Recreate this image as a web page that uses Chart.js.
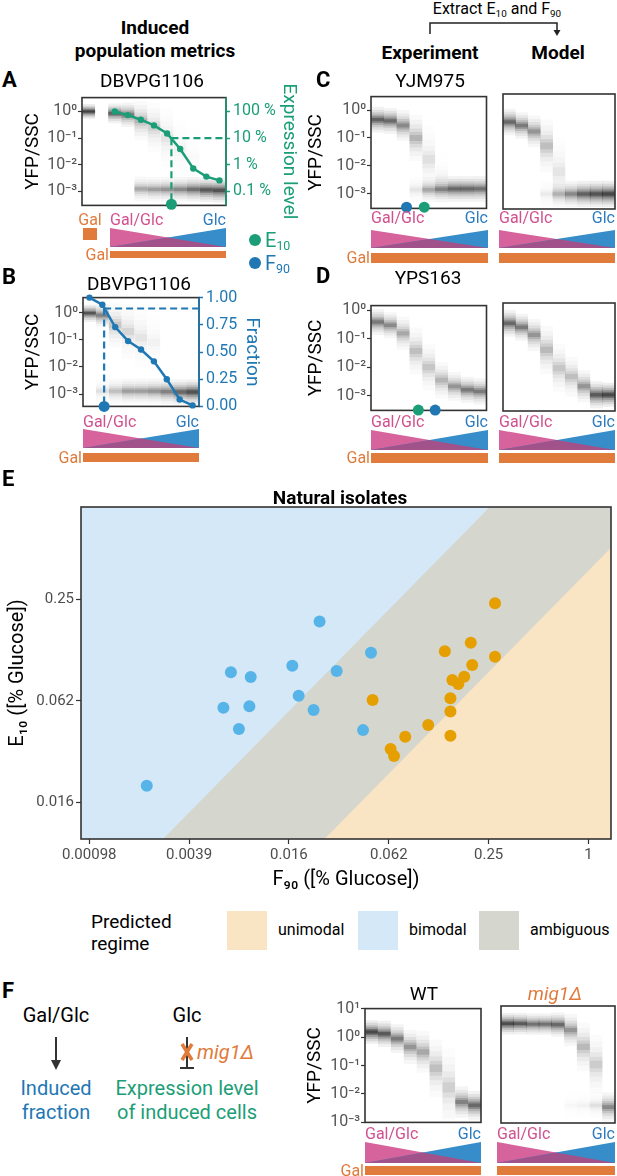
<!DOCTYPE html>
<html>
<head>
<meta charset="utf-8">
<title>Induced population metrics</title>
<script src="https://cdn.jsdelivr.net/npm/chart.js@4.4.1/dist/chart.umd.min.js"></script>
<style>
  body { margin: 0; width: 617px; height: 1176px; position: relative; overflow: hidden; background: #fff; font-family: Roboto, sans-serif; color: #000; }
  .t { position: absolute; white-space: nowrap; line-height: 1; }
  .cv { position: absolute; }
  sub { font-size: 0.62em; vertical-align: -0.28em; line-height: 0; }
  #deco { position: absolute; left: 0; top: 0; }
</style>
</head>
<body>
<svg id="deco" width="617" height="1176"></svg>
<script>
// ---------- panel E: natural isolates (% glucose) ----------
const blueF90 = [0.00217, 0.0239, 0.00698, 0.00919, 0.01637, 0.01788, 0.00629, 0.00902, 0.0078, 0.022, 0.0303, 0.0488, 0.0437];
const blueE10 = [0.0196, 0.185, 0.0923, 0.0865, 0.101, 0.067, 0.0569, 0.058, 0.0425, 0.0551, 0.0939, 0.1206, 0.0419];
const orangeF90 = [0.273, 0.195, 0.136, 0.199, 0.273, 0.151, 0.164, 0.178, 0.147, 0.147, 0.147, 0.108, 0.0785, 0.0641, 0.0672, 0.0499];
const orangeE10 = [0.237, 0.138, 0.123, 0.102, 0.114, 0.083, 0.0786, 0.0869, 0.0647, 0.0541, 0.0388, 0.0449, 0.0383, 0.0324, 0.0294, 0.0632];
// regime boundaries (two end points each, beyond the axis range)
const regionF90 = [0.0005, 2];
const bimodalTop = [5, 5];
const ambiguousTop = [0.00174, 6.96];
const unimodalTop = [0.000185, 0.74];
const eXTicks = [0.0009765625, 0.00390625, 0.015625, 0.0625, 0.25, 1];
const eXLabels = ['0.00098', '0.0039', '0.016', '0.062', '0.25', '1'];
const eYTicks = [0.015625, 0.0625, 0.25];
const eYLabels = ['0.016', '0.062', '0.25'];

// ---------- small density panels (YFP/SSC per condition) ----------
const decTicks = [0.001, 0.01, 0.1, 1];
const decLabels = ['10⁻³', '10⁻²', '10⁻¹', '10⁰'];
const fTicks = [0.001, 0.01, 0.1, 1, 10];
const fLabels = ['10⁻³', '10⁻²', '10⁻¹', '10⁰', '10¹'];
const exprTicks = [0.001, 0.01, 0.1, 1];
const exprLabels = ['0.1 %', '1 %', '10 %', '100 %'];
const fracTicks = [0, 0.25, 0.5, 0.75, 1];
const fracLabels = ['0.00', '0.25', '0.50', '0.75', '1.00'];

// A: DBVPG1106 (col 0 = Gal, col 1 empty)
const aInd  = [1.0, null, 0.85, 0.75, 0.45, 0.25, 0.1, 0.04, 0.02, null, null];
const aIndW = [1.0, 0, 0.75, 0.6, 0.3, 0.18, 0.1, 0.06, 0.03, 0, 0];
const aIndS = [0.6, 1, 0.8, 1.0, 1.6, 2.0, 2.4, 2.4, 2.4, 1, 1];
const aBas  = [null, null, null, null, 1.25e-3, 1.2e-3, 1.2e-3, 1.2e-3, 1.2e-3, 1.15e-3, 1.1e-3];
const aBasW = [0, 0, 0, 0, 0.35, 0.4, 0.45, 0.5, 0.65, 0.8, 0.85];
const aExprX = [2, 3, 4, 5, 6, 7, 8, 9, 10];
const aExpr = [1.0, 0.73, 0.49, 0.30, 0.15, 0.039, 0.0073, 0.0036, 0.0026];
const aE10 = 6.33, aE10Level = 0.1;

// B: DBVPG1106 fraction
const bInd  = [0.95, 0.8, 0.35, 0.2, 0.12, 0.08, null, null, null];
const bIndW = [0.85, 0.55, 0.22, 0.15, 0.1, 0.06, 0, 0, 0];
const bIndS = [0.7, 0.9, 1.8, 2.2, 2.4, 2.4, 1, 1, 1];
const bBas  = [null, 1.3e-3, 1.3e-3, 1.3e-3, 1.3e-3, 1.3e-3, 1.25e-3, 1.2e-3, 1.2e-3];
const bBasW = [0, 0.12, 0.25, 0.4, 0.4, 0.45, 0.55, 0.7, 0.85];
const bFrac = [1.0, 0.934, 0.729, 0.600, 0.523, 0.414, 0.249, 0.063, 0.009];
const bF90 = 1.14, bF90Level = 0.9;

// C: YJM975 experiment / model
const cInd  = [0.45, 0.41, 0.28, 0.1, 0.017, 0.004, null, null, null];
const cIndW = [0.75, 0.7, 0.5, 0.3, 0.12, 0.05, 0, 0, 0];
const cIndS = [1, 1, 1.2, 1.8, 2.6, 2, 1, 1, 1];
const cBas  = [null, null, null, 1.4e-3, 1.4e-3, 1.45e-3, 1.5e-3, 1.5e-3, 1.5e-3];
const cBasW = [0, 0, 0, 0.1, 0.35, 0.55, 0.7, 0.7, 0.65];
const cF90 = 2.27, cE10 = 3.65;
const cmInd  = [0.32, 0.24, 0.15, 0.047, 0.006, null, null, null, null];
const cmIndW = [0.7, 0.6, 0.45, 0.25, 0.1, 0, 0, 0, 0];
const cmIndS = [1, 1, 1.2, 2, 2.6, 1, 1, 1, 1];
const cmBas  = [null, null, null, 1e-3, 1e-3, 1e-3, 1e-3, 1e-3, 1e-3];
const cmBasW = [0, 0, 0, 0.08, 0.3, 0.5, 0.75, 0.85, 0.95];

// D: YPS163 experiment / model
const dInd  = [0.39, 0.3, 0.155, 0.037, 0.01, 0.0035, 0.0021, 0.0016, 0.0014];
const dIndW = [0.6, 0.5, 0.35, 0.25, 0.22, 0.3, 0.45, 0.6, 0.6];
const dIndS = [1, 1, 1.3, 1.8, 1.8, 1.4, 1.1, 1, 1];
const dE10 = 3.19, dF90 = 4.5;
const dmInd  = [0.3, 0.22, 0.12, 0.037, 0.0087, 0.0045, 0.0021, 0.00107, 0.00107];
const dmIndW = [0.7, 0.6, 0.45, 0.28, 0.22, 0.25, 0.45, 0.8, 0.95];
const dmIndS = [1, 1, 1.2, 1.8, 1.8, 1.5, 1.2, 1, 0.9];

// F: WT / mig1Δ
const wInd  = [1.5, 1.3, 0.88, 0.45, 0.3, 0.08, 0.017, 0.0052, 0.004];
const wIndW = [0.95, 0.8, 0.6, 0.45, 0.35, 0.25, 0.18, 0.55, 0.7];
const wIndS = [0.9, 1, 1.1, 1.3, 1.6, 2.2, 3, 1.2, 1.1];
const mInd  = [2.5, 2.5, 2.4, 2.4, 2.3, 1.5, 0.4, 0.1, 0.0035];
const mIndW = [0.9, 0.8, 0.65, 0.65, 0.7, 0.45, 0.28, 0.2, 0.5];
const mIndS = [0.8, 0.8, 0.8, 0.8, 0.9, 1.2, 1.8, 2.2, 1.1];
const mBas  = [null, null, null, null, null, 0.004, 0.004, 0.004, null];
const mBasW = [0, 0, 0, 0, 0, 0.04, 0.06, 0.12, 0];

// ---------- colours ----------
const GREEN = '#1b9e77', BLUE = '#1f78b4', ORANGE = '#e07b3c';
const PINK = '#d6639c', TRI_BLUE = '#368dc9', PURPLE = '#a2528b';
const PINK_TXT = '#d1508e', BLUE_TXT = '#2b7bbf';
const C_UNI = '#f9e4c4', C_BI = '#d5e8f7', C_AMB = '#d5d6ce';
const PT_BLUE = '#56b4e9', PT_ORANGE = '#e69f00';

Chart.defaults.font.family = 'Roboto, sans-serif';
Chart.defaults.animation = false;
Chart.defaults.plugins.legend.display = false;
Chart.defaults.plugins.tooltip.enabled = false;

// panel outline, drawn under the overlay lines/markers
function drawBox(c, opts) {
  c.$box = true;
  const { ctx, chartArea: r } = c;
  ctx.save();
  ctx.strokeStyle = '#333';
  ctx.lineWidth = 1.6;
  ctx.strokeRect(r.left, r.top, r.right - r.left, r.bottom - r.top);
  if (opts && opts.right) {
    ctx.strokeStyle = opts.right;
    ctx.beginPath(); ctx.moveTo(r.right, r.top); ctx.lineTo(r.right, r.bottom); ctx.stroke();
  }
  ctx.restore();
}
Chart.register({
  id: 'box',
  beforeDatasetsDraw(c) { c.$box = false; },
  beforeDatasetDraw(c, a, opts) { if (!c.$box && c.data.datasets[a.index].overBox) drawBox(c, opts); },
  afterDatasetsDraw(c, a, opts) { if (!c.$box) drawBox(c, opts); }
});

function label(x, y, html, css, anchor) {
  const d = document.createElement('div');
  d.className = 't';
  d.innerHTML = html;
  d.style.cssText = `left:${x}px;top:${y}px;${css || ''}`;
  const tx = anchor === 'l' ? '0' : anchor === 'r' ? '-100%' : '-50%';
  d.style.transform = `translate(${tx},-50%)`;
  document.body.appendChild(d);
}

const deco = document.getElementById('deco');
function shape(tag, attrs) {
  const el = document.createElementNS('http://www.w3.org/2000/svg', tag);
  for (const k in attrs) el.setAttribute(k, attrs[k]);
  deco.appendChild(el);
}

// Gal/Glc gradient key under a panel
function strip(L, R, yLab, t0, t1, g0, g1, galLabel) {
  const m = (L + R) / 2, h = (t0 + t1) / 2;
  shape('polygon', { points: `${L},${t0} ${R},${t1} ${L},${t1}`, fill: PINK });
  shape('polygon', { points: `${R},${t0} ${R},${t1} ${L},${t1}`, fill: TRI_BLUE });
  shape('polygon', { points: `${L},${t1} ${m},${h} ${R},${t1}`, fill: PURPLE });
  shape('rect', { x: L, y: g0, width: R - L, height: g1 - g0, fill: ORANGE });
  label(L, yLab, 'Gal/Glc', `color:${PINK_TXT};font-size:16px`, 'l');
  label(R, yLab, 'Glc', `color:${BLUE_TXT};font-size:16px`, 'r');
  if (galLabel) label(L - 1, (g0 + g1) / 2, 'Gal', `color:${ORANGE};font-size:16px`, 'r');
}

// density lobes as stacked translucent floating bars (half-width in decades, opacity)
const LAYERS = [[0.46, 0.07], [0.36, 0.1], [0.27, 0.14], [0.19, 0.2], [0.12, 0.28], [0.06, 0.38]];
function lobes(vals, wts, spr, colW) {
  return LAYERS.map(([s, a]) => ({
    type: 'bar', grouped: false, order: 10, barThickness: colW, inflateAmount: 0, borderWidth: 0,
    data: vals.map((v, i) => {
      if (v == null) return null;
      const k = Math.pow(10, s * (spr ? spr[i] : 1));
      return { x: i, y: [v / k, v * k], w: wts[i] * a };
    }).filter(Boolean),
    backgroundColor: c => `rgba(0,0,0,${c.raw ? c.raw.w.toFixed(3) : 0})`
  }));
}
function line(data, color, o) {
  return Object.assign({ type: 'line', data, borderColor: color, backgroundColor: color, pointBorderWidth: 0,
    clip: false, overBox: true, fill: false, yAxisID: 'y' }, o);
}
function dot(data, color, axis) {
  return { type: 'line', data, showLine: false, pointRadius: 5.5, pointBackgroundColor: color, pointBorderWidth: 0,
    borderWidth: 0, clip: false, overBox: true, order: 0, yAxisID: axis || 'y' };
}

function heatPanel(cfg) {
  const [L, T, R, B] = cfg.box;
  const n = cfg.ind.length;
  const lw = cfg.left || 4, rw = cfg.rightW || 4;
  const padT = 8, padB = 10;
  const div = document.createElement('div');
  div.className = 'cv';
  div.style.left = (L - lw) + 'px';
  div.style.top = (T - padT) + 'px';
  const cv = document.createElement('canvas');
  cv.width = R - L + lw + rw;
  cv.height = B - T + padT + padB;
  div.appendChild(cv);
  document.body.appendChild(div);
  const colW = (R - L) / n;
  const yMin = Math.pow(10, cfg.yr[0]), yMax = Math.pow(10, cfg.yr[1]);
  const datasets = lobes(cfg.ind, cfg.indW, cfg.indS, colW);
  if (cfg.bas) datasets.push(...lobes(cfg.bas, cfg.basW, null, colW));
  if (cfg.extra) datasets.push(...cfg.extra(yMin, n));
  const yt = cfg.yt || decTicks, ytl = cfg.ytl || decLabels;
  const scales = {
    x: { type: 'linear', min: -0.5, max: n - 0.5, offset: false, display: false },
    y: {
      type: 'logarithmic', min: yMin, max: yMax, display: !!cfg.left,
      afterBuildTicks: s => { s.ticks = yt.map(v => ({ value: v })); },
      afterFit: s => { s.width = lw; },
      ticks: { callback: (v, i) => ytl[i], font: { size: 16 }, color: '#555', padding: 1, autoSkip: false },
      grid: { drawOnChartArea: false, tickLength: 4, color: '#333', tickWidth: 1.2 },
      border: { display: false },
      title: { display: true, text: 'YFP/SSC', font: { size: 19 }, color: '#000', padding: { top: 2, bottom: 0 } }
    }
  };
  if (cfg.rightAxis) scales.y2 = Object.assign(cfg.rightAxis(yMin, yMax), { afterFit: s => { s.width = rw; } });
  new Chart(cv, {
    type: 'bar',
    data: { datasets },
    options: {
      responsive: false,
      layout: { padding: { top: padT, bottom: padB, left: cfg.left ? 0 : 4, right: cfg.rightAxis ? 0 : 4 } },
      scales,
      plugins: { box: { right: cfg.rightColor } }
    }
  });
}

function sideAxis(type, min, max, ticks, labels, color, title) {
  return {
    type, position: 'right', min, max,
    afterBuildTicks: s => { s.ticks = ticks.map(v => ({ value: v })); },
    ticks: { callback: (v, i) => labels[i], font: { size: 16 }, color, padding: 3, autoSkip: false },
    grid: { drawOnChartArea: false, tickLength: 4, color, tickWidth: 1.5 },
    border: { display: false },
    title: { display: true, text: title, font: { size: 19 }, color, padding: { top: 2, bottom: 0 } }
  };
}

// ---------- A ----------
heatPanel({
  box: [82, 93, 226, 208], yr: [-3.48, 0.52],
  ind: aInd, indW: aIndW, indS: aIndS, bas: aBas, basW: aBasW,
  left: 62, rightW: 76, rightColor: GREEN,
  rightAxis: (lo, hi) => sideAxis('logarithmic', lo, hi, exprTicks, exprLabels, GREEN, 'Expression level'),
  extra: (yMin, n) => [
    line(aExprX.map((x, i) => ({ x, y: aExpr[i] })), GREEN, { borderWidth: 2.5, pointRadius: 3.2, order: 1 }),
    line([{ x: aE10, y: aE10Level }, { x: n - 0.5, y: aE10Level }], GREEN, { borderDash: [7, 4], borderWidth: 2.2, pointRadius: 0, order: 2 }),
    line([{ x: aE10, y: aE10Level }, { x: aE10, y: yMin }], GREEN, { borderDash: [7, 4], borderWidth: 2.2, pointRadius: 0, order: 2 }),
    dot([{ x: aE10, y: yMin }], GREEN)
  ]
});
// ---------- B ----------
heatPanel({
  box: [83, 293, 199, 409], yr: [-3.45, 0.55],
  ind: bInd, indW: bIndW, indS: bIndS, bas: bBas, basW: bBasW,
  left: 63, rightW: 66, rightColor: BLUE,
  rightAxis: () => sideAxis('linear', 0, 1, fracTicks, fracLabels, BLUE, 'Fraction'),
  extra: (yMin, n) => [
    line(bFrac.map((y, i) => ({ x: i, y })), BLUE, { borderWidth: 2.5, pointRadius: 3.2, order: 1, yAxisID: 'y2' }),
    line([{ x: bF90, y: bF90Level }, { x: n - 0.5, y: bF90Level }], BLUE, { borderDash: [7, 4], borderWidth: 2.2, pointRadius: 0, order: 2, yAxisID: 'y2' }),
    line([{ x: bF90, y: bF90Level }, { x: bF90, y: 0 }], BLUE, { borderDash: [7, 4], borderWidth: 2.2, pointRadius: 0, order: 2, yAxisID: 'y2' }),
    dot([{ x: bF90, y: 0 }], BLUE, 'y2')
  ]
});
// ---------- C ----------
heatPanel({
  box: [371, 94, 488, 209], yr: [-3.48, 0.48], left: 68,
  ind: cInd, indW: cIndW, indS: cIndS, bas: cBas, basW: cBasW,
  extra: yMin => [dot([{ x: cF90, y: yMin }], BLUE), dot([{ x: cE10, y: yMin }], GREEN)]
});
heatPanel({ box: [499, 94, 615, 209], yr: [-3.48, 0.48], ind: cmInd, indW: cmIndW, indS: cmIndS, bas: cmBas, basW: cmBasW });
// ---------- D ----------
heatPanel({
  box: [371, 303, 488, 411], yr: [-3.51, 0.17], left: 68,
  ind: dInd, indW: dIndW, indS: dIndS,
  extra: yMin => [dot([{ x: dE10, y: yMin }], GREEN), dot([{ x: dF90, y: yMin }], BLUE)]
});
heatPanel({ box: [499, 303, 615, 411], yr: [-3.51, 0.17], ind: dmInd, indW: dmIndW, indS: dmIndS });
// ---------- F ----------
heatPanel({ box: [365, 1006, 481, 1123], yr: [-3, 1], left: 63, yt: fTicks, ytl: fLabels, ind: wInd, indW: wIndW, indS: wIndS });
heatPanel({ box: [497, 1006, 615, 1123], yr: [-3, 1], yt: fTicks, ytl: fLabels, ind: mInd, indW: mIndW, indS: mIndS, bas: mBas, basW: mBasW });

// ---------- E ----------
(function () {
  const div = document.createElement('div');
  div.className = 'cv';
  div.style.left = '0px';
  div.style.top = '485px';
  const cv = document.createElement('canvas');
  cv.width = 617; cv.height = 407;
  div.appendChild(cv);
  document.body.appendChild(div);
  const region = (top, color, order) => ({
    type: 'line', data: regionF90.map((x, i) => ({ x, y: top[i] })), fill: 'start',
    backgroundColor: color, borderColor: 'transparent', borderWidth: 0, pointRadius: 0, order
  });
  const pts = (xs, ys, color) => ({
    data: xs.map((x, i) => ({ x, y: ys[i] })), backgroundColor: color, pointRadius: 6,
    pointBorderWidth: 0, borderWidth: 0, order: 0, overBox: true
  });
  const axis = (ticks, labels, title, fit) => ({
    type: 'logarithmic',
    afterBuildTicks: s => { s.ticks = ticks.map(v => ({ value: v })); },
    afterFit: fit,
    ticks: { callback: (v, i) => labels[i], font: { size: 15 }, color: '#4d4d4d', padding: 2, autoSkip: false, maxRotation: 0 },
    grid: { drawOnChartArea: false, tickLength: 5, color: '#333', tickWidth: 1.2 },
    border: { display: false },
    title: { display: true, text: title, font: { size: 20 }, color: '#000', padding: { top: 6, bottom: 0 } }
  });
  new Chart(cv, {
    type: 'scatter',
    data: {
      datasets: [
        region(bimodalTop, C_BI, 3),
        region(ambiguousTop, C_AMB, 2),
        region(unimodalTop, C_UNI, 1),
        pts(blueF90, blueE10, PT_BLUE),
        pts(orangeF90, orangeE10, PT_ORANGE)
      ]
    },
    options: {
      responsive: false,
      layout: { padding: { top: 22, right: 1, left: 0, bottom: 0 } },
      scales: {
        x: Object.assign(axis(eXTicks, eXLabels, 'F₉₀ ([% Glucose])', s => { s.height = 53; }), { min: 0.000871, max: 1.366 }),
        y: Object.assign(axis(eYTicks, eYLabels, 'E₁₀ ([% Glucose])', s => { s.width = 81; }), { min: 0.00947, max: 0.8827 })
      }
    }
  });
})();

// ---------- keys, schematics and texts ----------
strip(110, 226, 220, 228, 247, 251, 258, true);
shape('rect', { x: 83, y: 228, width: 14, height: 12, fill: ORANGE });
label(90, 220, 'Gal', `color:${ORANGE};font-size:16px`);
strip(83, 199, 422, 429, 448, 453, 462, true);
strip(371, 488, 218, 230, 248, 253, 263, true);
strip(499, 615, 218, 230, 248, 253, 263, false);
strip(371, 488, 422, 430, 450, 453, 463, true);
strip(499, 615, 422, 430, 450, 453, 463, false);
strip(365, 481, 1134, 1142, 1163, 1166, 1175, true);
strip(497, 615, 1134, 1142, 1163, 1166, 1175, false);

// E10 / F90 key
shape('circle', { cx: 255, cy: 240, r: 6, fill: GREEN });
shape('circle', { cx: 255, cy: 263, r: 6, fill: BLUE });
label(265, 240, 'E<sub>10</sub>', `color:${GREEN};font-size:20px`, 'l');
label(265, 263, 'F<sub>90</sub>', `color:${BLUE};font-size:20px`, 'l');

// bracket "Extract E10 and F90"
shape('polyline', { points: '430,34 430,23 557,23 557,31', fill: 'none', stroke: '#222', 'stroke-width': 1.5 });
shape('polygon', { points: '553.5,30 560.5,30 557,36', fill: '#222' });

// F schematic arrows
shape('line', { x1: 56, y1: 1037, x2: 56, y2: 1062, stroke: '#333', 'stroke-width': 2 });
shape('polygon', { points: '51,1060 61,1060 56,1070', fill: '#333' });
shape('line', { x1: 187, y1: 1037, x2: 187, y2: 1068, stroke: '#333', 'stroke-width': 2 });
shape('line', { x1: 180, y1: 1068, x2: 194, y2: 1068, stroke: '#333', 'stroke-width': 2 });
shape('line', { x1: 182, y1: 1044, x2: 192, y2: 1060, stroke: ORANGE, 'stroke-width': 3.5 });
shape('line', { x1: 192, y1: 1044, x2: 182, y2: 1060, stroke: ORANGE, 'stroke-width': 3.5 });

const BOLD = 'font-weight:bold;font-size:19px';
const LETTER = 'font-weight:bold;font-size:22px';
label(155, 27, 'Induced', BOLD);
label(155, 50, 'population metrics', BOLD);
label(2, 80, 'A', LETTER, 'l');
label(152, 80, 'DBVPG1106', 'font-size:19px');
label(2, 277, 'B', LETTER, 'l');
label(139, 283, 'DBVPG1106', 'font-size:19px');
label(497, 9, 'Extract E<sub>10</sub> and F<sub>90</sub>', 'font-size:16px');
label(430, 52, 'Experiment', BOLD);
label(558, 52, 'Model', BOLD);
label(316, 80, 'C', LETTER, 'l');
label(430, 80, 'YJM975', 'font-size:19px');
label(316, 276, 'D', LETTER, 'l');
label(428, 277, 'YPS163', 'font-size:19px');
label(2, 479, 'E', LETTER, 'l');
label(340, 497, 'Natural isolates', BOLD);

// regime legend
label(91, 921, 'Predicted', 'font-size:19px', 'l');
label(91, 943, 'regime', 'font-size:19px', 'l');
[[227, C_UNI, 'unimodal'], [358, C_BI, 'bimodal'], [479, C_AMB, 'ambiguous']].forEach(([x, c, t]) => {
  shape('rect', { x, y: 911, width: 40, height: 39, fill: c });
  label(x + 51, 930, t, 'font-size:16px', 'l');
});

label(2, 991, 'F', LETTER, 'l');
label(56, 1015, 'Gal/Glc', 'font-size:20px');
label(187, 1015, 'Glc', 'font-size:20px');
label(56, 1088, 'Induced', `color:${BLUE};font-size:20px`);
label(56, 1112, 'fraction', `color:${BLUE};font-size:20px`);
label(187, 1088, 'Expression level', `color:${GREEN};font-size:20px`);
label(187, 1112, 'of induced cells', `color:${GREEN};font-size:20px`);
label(197, 1052, '<i>mig1Δ</i>', `color:${ORANGE};font-size:20px`, 'l');
label(424, 993, 'WT', 'font-size:19px');
label(555, 993, '<i>mig1Δ</i>', `color:${ORANGE};font-size:19px`);
</script>
</body>
</html>
